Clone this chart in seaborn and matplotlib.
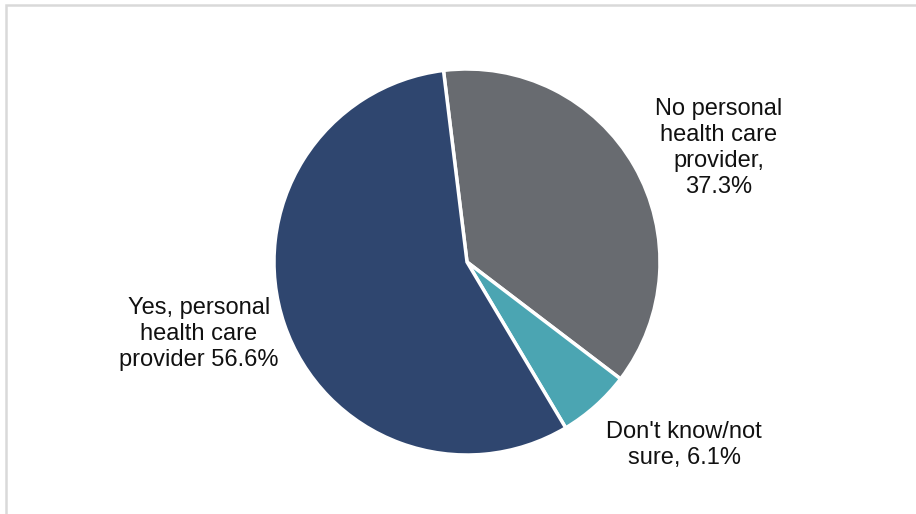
import matplotlib
matplotlib.use("Agg")
import matplotlib.pyplot as plt
import seaborn as sns
from matplotlib.patches import Rectangle

categories = ["No personal health care provider", "Don't know/not sure", "Yes, personal health care provider"]
values = [37.3, 6.1, 56.6]
labels = ["No personal\nhealth care\nprovider,\n37.3%", "Don't know/not\nsure, 6.1%", "Yes, personal\nhealth care\nprovider 56.6%"]
colors = ["#686B70", "#4BA5B2", "#2F466F"]

sns.set_theme(style="white")
plt.rcParams['font.family'] = ['Liberation Sans', 'DejaVu Sans']

W, H = 916, 514
fig = plt.figure(figsize=(W / 100, H / 100), dpi=100)
fig.patch.set_facecolor("white")

cx, cy, r = 467, 262, 193
ax = fig.add_axes([(cx - r) / W, (H - cy - r) / H, 2 * r / W, 2 * r / H])
ax.pie(values, colors=colors, startangle=97, counterclock=False,
       wedgeprops=dict(edgecolor="white", linewidth=2.5), radius=1.0)
ax.set_xlim(-1, 1)
ax.set_ylim(-1, 1)
ax.set_aspect("equal")
ax.axis("off")

label_pos = [(719, 148), (684, 445), (199, 334)]
for lab, (px, py) in zip(labels, label_pos):
    fig.text(px / W, 1 - py / H, lab, ha="center", va="center",
             fontsize=17, color="#111111", linespacing=1.22)

fig.patches.append(Rectangle((6 / W, -0.1), 1.2, 1 - 5 / H + 0.1, transform=fig.transFigure,
                             fill=False, edgecolor="#d9d9d9", linewidth=1.8))

fig.savefig("out.png", dpi=100, facecolor="white")
